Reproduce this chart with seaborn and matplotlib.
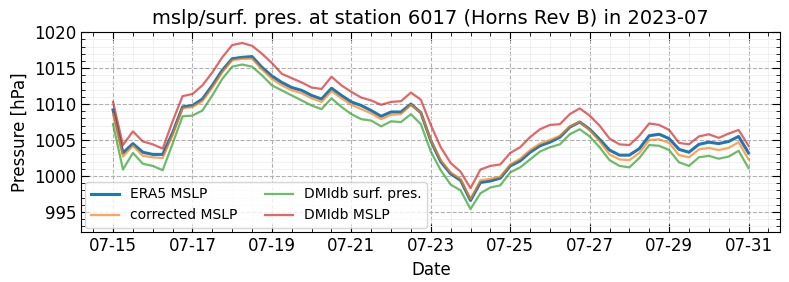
import pandas as pd
import numpy as np
import matplotlib
matplotlib.use("Agg")
import matplotlib.pyplot as plt
import matplotlib.dates as mdates
import seaborn as sns

# 6-hourly samples from 2023-07-15 00:00 to 2023-07-31 00:00
times = pd.date_range("2023-07-15 00:00", "2023-07-31 00:00", freq="6h")

era5_mslp = [
    1009.2, 1003.2, 1004.5, 1003.3, 1003.0, 1003.0, 1006.0, 1009.6,
    1009.8, 1010.7, 1012.6, 1014.7, 1016.3, 1016.5, 1016.6, 1015.1,
    1013.9, 1013.0, 1012.3, 1011.9, 1011.2, 1010.7, 1012.2, 1011.2,
    1010.3, 1009.8, 1009.1, 1008.3, 1008.9, 1008.9, 1010.0, 1008.8,
    1004.9, 1002.0, 1000.3, 999.4, 996.6, 999.1, 999.3, 999.7,
    1001.4, 1002.1, 1003.3, 1004.2, 1004.7, 1005.4, 1006.8, 1007.5,
    1006.5, 1005.1, 1003.6, 1002.9, 1002.9, 1003.8, 1005.6, 1005.8,
    1005.2, 1003.7, 1003.3, 1004.4, 1004.7, 1004.5, 1004.8, 1005.5,
    1003.2,
]

corrected_mslp = [
    1008.6, 1002.7, 1004.2, 1002.8, 1002.6, 1002.5, 1005.7, 1009.4,
    1009.6, 1010.4, 1012.3, 1014.4, 1016.1, 1016.3, 1016.3, 1014.8,
    1013.5, 1012.6, 1011.9, 1011.5, 1010.8, 1010.3, 1011.8, 1010.8,
    1009.9, 1009.3, 1008.7, 1007.9, 1008.5, 1008.6, 1009.9, 1008.8,
    1005.0, 1002.2, 1000.5, 999.6, 996.8, 999.4, 999.6, 999.9,
    1001.6, 1002.4, 1003.6, 1004.5, 1005.0, 1005.6, 1006.9, 1007.5,
    1006.4, 1004.8, 1003.0, 1002.3, 1002.2, 1003.2, 1005.0, 1005.1,
    1004.6, 1002.9, 1002.6, 1003.7, 1003.9, 1003.6, 1003.9, 1004.7,
    1002.3,
]

dmi_surf = [
    1007.2, 1000.9, 1003.2, 1001.7, 1001.4, 1000.8, 1004.5, 1008.3,
    1008.4, 1009.1, 1011.2, 1013.5, 1015.2, 1015.5, 1015.2, 1014.0,
    1012.6, 1011.9, 1011.2, 1010.5, 1009.8, 1009.3, 1010.8, 1009.6,
    1008.6, 1007.9, 1007.7, 1006.9, 1007.6, 1007.5, 1008.6, 1007.2,
    1003.4, 1000.8, 998.8, 998.0, 995.4, 997.6, 998.4, 998.7,
    1000.5, 1001.2, 1002.3, 1003.4, 1004.0, 1004.4, 1005.8, 1006.5,
    1005.5, 1004.0, 1002.2, 1001.4, 1001.2, 1002.5, 1004.3, 1004.2,
    1003.6, 1001.9, 1001.4, 1002.6, 1002.8, 1002.4, 1002.7, 1003.5,
    1001.1,
]

dmi_mslp = [
    1010.3, 1004.3, 1006.2, 1004.8, 1004.4, 1003.8, 1007.6, 1011.1,
    1011.4, 1012.6, 1014.4, 1016.5, 1018.2, 1018.5, 1018.1, 1017.0,
    1015.7, 1014.2, 1013.6, 1013.0, 1012.3, 1012.1, 1013.8, 1012.6,
    1011.7, 1010.9, 1010.5, 1009.9, 1010.3, 1010.4, 1011.6, 1010.6,
    1007.1, 1004.0, 1001.8, 1000.6, 998.3, 1000.9, 1001.4, 1001.6,
    1003.2, 1004.0, 1005.4, 1006.5, 1007.1, 1007.2, 1008.6, 1009.4,
    1008.4, 1007.0, 1005.2, 1004.4, 1004.3, 1005.6, 1007.3, 1007.1,
    1006.4, 1004.6, 1004.4, 1005.5, 1005.8, 1005.3, 1005.9, 1006.4,
    1004.2,
]

series = [
    ("ERA5 MSLP", era5_mslp, "#1f77b4", 2.2, 1.0),
    ("corrected MSLP", corrected_mslp, "#ff7f0e", 1.6, 0.7),
    ("DMIdb surf. pres.", dmi_surf, "#2ca02c", 1.6, 0.7),
    ("DMIdb MSLP", dmi_mslp, "#d62728", 1.6, 0.7),
]

fig = plt.figure(figsize=(7.89, 2.82), dpi=100)
ax = fig.add_axes([0.103, 0.177, 0.886, 0.709])

for name, vals, col, lw, a in series:
    df = pd.DataFrame({"time": times, "p": vals})
    sns.lineplot(data=df, x="time", y="p", ax=ax, color=col, lw=lw,
                 alpha=a, label=name)

ax.set_ylim(992.2, 1020)
ax.set_yticks([995, 1000, 1005, 1010, 1015, 1020])
ax.yaxis.set_minor_locator(matplotlib.ticker.MultipleLocator(1))
ax.xaxis.set_major_locator(mdates.DayLocator(bymonthday=range(15, 32, 2)))
ax.xaxis.set_minor_locator(mdates.HourLocator(byhour=[0, 12]))
ax.xaxis.set_major_formatter(mdates.DateFormatter("%m-%d"))

ax.tick_params(which="both", direction="in", top=True, right=True, labelsize=12)
ax.tick_params(which="major", length=6)
ax.tick_params(which="minor", length=3)

ax.grid(which="major", ls="--", color="#b0b0b0", lw=0.8)
ax.grid(which="minor", ls="-", color="#eeeeee", lw=0.6)
ax.set_axisbelow(True)

ax.set_xlabel("Date", fontsize=12)
ax.set_ylabel("Pressure [hPa]", fontsize=12)
ax.set_title("mslp/surf. pres. at station 6017 (Horns Rev B) in 2023-07", fontsize=14)

ax.legend(loc="lower left", ncol=2, fontsize=10, framealpha=0.8,
          borderaxespad=0.3, columnspacing=2.0)

fig.savefig("out.png", dpi=100)
